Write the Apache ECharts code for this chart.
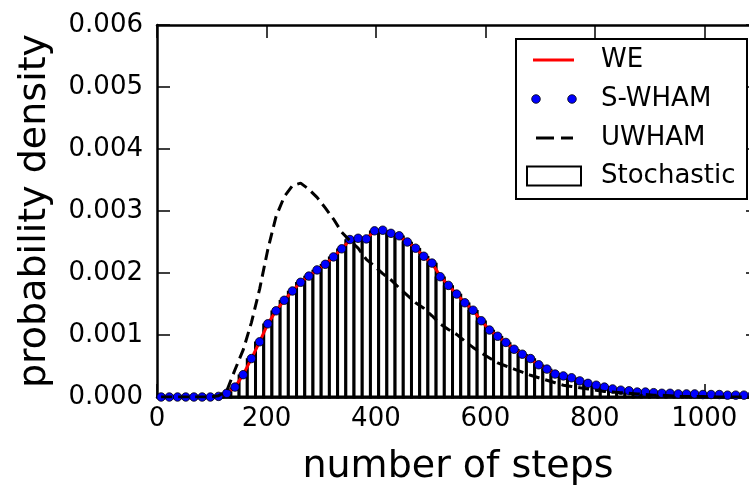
<!DOCTYPE html>
<html>
<head>
<meta charset="utf-8">
<script src="https://cdn.jsdelivr.net/npm/echarts@6/dist/echarts.min.js"></script>
<style>
  html, body { margin: 0; padding: 0; background: #fff; }
  #chart { width: 749px; height: 488px; }
</style>
</head>
<body>
<div id="chart"></div>
<script>
// Histogram bins of the number of steps (width 15), left edges and centres
const binLeft = [0, 15, 30, 45, 60, 75, 90, 105, 120, 135, 150, 165, 180, 195, 210, 225, 240, 255, 270, 285,
  300, 315, 330, 345, 360, 375, 390, 405, 420, 435, 450, 465, 480, 495, 510, 525, 540, 555, 570, 585,
  600, 615, 630, 645, 660, 675, 690, 705, 720, 735, 750, 765, 780, 795, 810, 825, 840, 855, 870, 885,
  900, 915, 930, 945, 960, 975, 990, 1005, 1020, 1035, 1050, 1065, 1080];
const binRight = [15, 30, 45, 60, 75, 90, 105, 120, 135, 150, 165, 180, 195, 210, 225, 240, 255, 270, 285, 300,
  315, 330, 345, 360, 375, 390, 405, 420, 435, 450, 465, 480, 495, 510, 525, 540, 555, 570, 585, 600,
  615, 630, 645, 660, 675, 690, 705, 720, 735, 750, 765, 780, 795, 810, 825, 840, 855, 870, 885, 900,
  915, 930, 945, 960, 975, 990, 1005, 1020, 1035, 1050, 1065, 1080, 1095];
const binCenter = [7.5, 22.5, 37.5, 52.5, 67.5, 82.5, 97.5, 112.5, 127.5, 142.5, 157.5, 172.5, 187.5, 202.5, 217.5, 232.5, 247.5, 262.5, 277.5, 292.5,
  307.5, 322.5, 337.5, 352.5, 367.5, 382.5, 397.5, 412.5, 427.5, 442.5, 457.5, 472.5, 487.5, 502.5, 517.5, 532.5, 547.5, 562.5, 577.5, 592.5,
  607.5, 622.5, 637.5, 652.5, 667.5, 682.5, 697.5, 712.5, 727.5, 742.5, 757.5, 772.5, 787.5, 802.5, 817.5, 832.5, 847.5, 862.5, 877.5, 892.5,
  907.5, 922.5, 937.5, 952.5, 967.5, 982.5, 997.5, 1012.5, 1027.5, 1042.5, 1057.5, 1072.5, 1087.5];

// Stochastic simulation histogram
const stochastic = [0, 0, 0, 0, 0, 0, 0, 0.00001, 0.00005, 0.00013, 0.00034, 0.00060, 0.00087, 0.00116, 0.00137, 0.00154, 0.00169, 0.00183, 0.00193, 0.00203,
  0.00212, 0.00224, 0.00237, 0.00252, 0.00254, 0.00254, 0.00266, 0.00267, 0.00262, 0.00258, 0.00248, 0.00238, 0.00225, 0.00214, 0.00192, 0.00178, 0.00164, 0.00150, 0.00138, 0.00121,
  0.00106, 0.00096, 0.00086, 0.00075, 0.00067, 0.00060, 0.00050, 0.00043, 0.00035, 0.00032, 0.00029, 0.00024, 0.00020, 0.00017, 0.00014, 0.00011, 0.00009, 0.00008, 0.00006, 0.00006,
  0.00005, 0.00004, 0.00004, 0.00003, 0.00003, 0.00003, 0.00002, 0.00002, 0.00002, 0.00002, 0.00001, 0.00001, 0.00001];

// Weighted ensemble estimate
const weDensity = [0, 0, 0, 0, 0, 0, 0, 0.00001, 0.00006, 0.00016, 0.00036, 0.00062, 0.00089, 0.00118, 0.00139, 0.00156, 0.00171, 0.00185, 0.00195, 0.00205,
  0.00214, 0.00226, 0.00239, 0.00253, 0.00257, 0.00256, 0.00267, 0.00269, 0.00264, 0.00259, 0.00250, 0.00240, 0.00227, 0.00216, 0.00195, 0.00180, 0.00166, 0.00152, 0.00140, 0.00123,
  0.00108, 0.00098, 0.00088, 0.00077, 0.00069, 0.00061, 0.00052, 0.00045, 0.00037, 0.00034, 0.00031, 0.00026, 0.00022, 0.00019, 0.00016, 0.00013, 0.00011, 0.00010, 0.00008, 0.00008,
  0.00007, 0.00006, 0.00006, 0.00005, 0.00005, 0.00005, 0.00004, 0.00004, 0.00004, 0.00003, 0.00003, 0.00003, 0.00003];

// S-WHAM estimate
const swhamDensity = [0, 0, 0, 0, 0, 0, 0, 0.00001, 0.00006, 0.00016, 0.00036, 0.00062, 0.00089, 0.00118, 0.00139, 0.00156, 0.00171, 0.00185, 0.00195, 0.00205,
  0.00214, 0.00226, 0.00239, 0.00254, 0.00256, 0.00255, 0.00268, 0.00269, 0.00264, 0.00260, 0.00250, 0.00240, 0.00227, 0.00216, 0.00194, 0.00180, 0.00166, 0.00152, 0.00140, 0.00123,
  0.00108, 0.00098, 0.00088, 0.00077, 0.00069, 0.00062, 0.00052, 0.00045, 0.00037, 0.00034, 0.00031, 0.00026, 0.00022, 0.00019, 0.00016, 0.00013, 0.00011, 0.00010, 0.00008, 0.00008,
  0.00007, 0.00006, 0.00006, 0.00005, 0.00005, 0.00005, 0.00004, 0.00004, 0.00004, 0.00003, 0.00003, 0.00003, 0.00003];

// UWHAM estimate
const uwhamDensity = [0, 0, 0, 0, 0, 0, 0, 0.00002, 0.00010, 0.00044, 0.00076, 0.00120, 0.00174, 0.00238, 0.00291, 0.00323, 0.00341, 0.00345, 0.00335, 0.00322,
  0.00305, 0.00287, 0.00266, 0.00252, 0.00240, 0.00222, 0.00211, 0.00199, 0.00189, 0.00176, 0.00164, 0.00152, 0.00143, 0.00131, 0.00118, 0.00109, 0.00101, 0.00090, 0.00080, 0.00071,
  0.00063, 0.00055, 0.00050, 0.00045, 0.00040, 0.00035, 0.00031, 0.00027, 0.00023, 0.00019, 0.00017, 0.00015, 0.00013, 0.00011, 0.00009, 0.00008, 0.00007, 0.00006, 0.00005, 0.00004,
  0.00003, 0.00003, 0.00002, 0.00001, 0.00001, 0.00001, 0.00001, 0, 0, 0, 0, 0, 0];

const xTicks = ['0', '200', '400', '600', '800', '1000'];
const yTicks = ['0.000', '0.001', '0.002', '0.003', '0.004', '0.005', '0.006'];
const legendNames = ['WE', 'S-WHAM', 'UWHAM', 'Stochastic'];

const FONT = 'DejaVu Sans';
const chart = echarts.init(document.getElementById('chart'), null, { renderer: 'canvas' });

const pairs = (ys) => binCenter.map((x, i) => [x, ys[i]]);
const histData = binLeft.map((x0, i) => [x0, binRight[i], stochastic[i]]);

const spine = { show: true, onZero: false, lineStyle: { color: '#000', width: 2.5 } };
const innerTicks = { show: true, inside: true, length: 13, lineStyle: { color: '#000', width: 1.5 } };

// Legend box drawn as a graphic group in the upper right corner
const legendRowY = [59, 98, 137, 175];
const legendGroup = {
  type: 'group',
  left: 515,
  top: 38,
  children: [
    { type: 'rect', shape: { x: 0, y: 0, width: 231, height: 160 }, style: { fill: '#fff', stroke: '#000', lineWidth: 2 } },
    { type: 'line', shape: { x1: 17, y1: legendRowY[0] - 38, x2: 58, y2: legendRowY[0] - 38 }, style: { stroke: '#ff0000', lineWidth: 3 } },
    { type: 'circle', shape: { cx: 20, cy: legendRowY[1] - 38, r: 4.3 }, style: { fill: '#0000ff', stroke: '#000', lineWidth: 0.8 } },
    { type: 'circle', shape: { cx: 56, cy: legendRowY[1] - 38, r: 4.3 }, style: { fill: '#0000ff', stroke: '#000', lineWidth: 0.8 } },
    { type: 'line', shape: { x1: 20, y1: legendRowY[2] - 38, x2: 38, y2: legendRowY[2] - 38 }, style: { stroke: '#000', lineWidth: 3 } },
    { type: 'line', shape: { x1: 45, y1: legendRowY[2] - 38, x2: 57, y2: legendRowY[2] - 38 }, style: { stroke: '#000', lineWidth: 3 } },
    { type: 'rect', shape: { x: 11, y: legendRowY[3] - 38 - 9.5, width: 54, height: 19 }, style: { fill: '#fff', stroke: '#000', lineWidth: 2 } }
  ].concat(legendNames.map((name, i) => ({
    type: 'text',
    x: 85,
    y: legendRowY[i] - 38,
    style: { text: name, font: '26px "' + FONT + '"', fill: '#000', verticalAlign: 'middle', align: 'left' }
  })))
};

chart.setOption({
  animation: false,
  backgroundColor: '#fff',
  grid: { left: 157, top: 25, right: -10, bottom: 91, containLabel: false, outerBoundsMode: 'none' },
  xAxis: [
    {
      type: 'value', position: 'bottom', min: 0, max: 1100, interval: 200,
      axisLine: spine, axisTick: innerTicks, splitLine: { show: false },
      axisLabel: {
        show: true, showMaxLabel: false, fontSize: 26, fontFamily: FONT, color: '#000', margin: 9,
        formatter: (v) => xTicks[Math.round(v / 200)]
      },
      name: 'number of steps', nameLocation: 'middle', nameGap: 51,
      nameTextStyle: { fontSize: 38, fontFamily: FONT, color: '#000' }
    },
    {
      type: 'value', position: 'top', min: 0, max: 1100, interval: 200,
      axisLine: spine, axisTick: innerTicks, splitLine: { show: false }, axisLabel: { show: false }
    }
  ],
  yAxis: [
    {
      type: 'value', position: 'left', min: 0, max: 0.006, interval: 0.001,
      axisLine: spine, axisTick: innerTicks, splitLine: { show: false },
      axisLabel: {
        fontSize: 26, fontFamily: FONT, color: '#000', margin: 14,
        formatter: (v) => yTicks[Math.round(v / 0.001)]
      },
      name: 'probability density', nameLocation: 'middle', nameRotate: 90, nameGap: 103,
      nameTextStyle: { fontSize: 38, fontFamily: FONT, color: '#000' }
    },
    {
      type: 'value', position: 'right', min: 0, max: 0.006, interval: 0.001,
      axisLine: spine, axisTick: innerTicks, splitLine: { show: false }, axisLabel: { show: false }
    }
  ],
  series: [
    {
      name: 'Stochastic',
      type: 'custom',
      xAxisIndex: 0, yAxisIndex: 0,
      data: histData,
      encode: { x: [0, 1], y: 2 },
      renderItem: (params, api) => {
        const top = api.coord([api.value(0), api.value(2)]);
        const base = api.coord([api.value(1), 0]);
        return {
          type: 'rect',
          shape: { x: top[0], y: top[1], width: base[0] - top[0], height: base[1] - top[1] },
          style: { fill: '#fff', stroke: '#000', lineWidth: 3 }
        };
      },
      z: 1
    },
    {
      name: 'WE', type: 'line', data: pairs(weDensity),
      showSymbol: false, lineStyle: { color: '#ff0000', width: 3 }, z: 2
    },
    {
      name: 'S-WHAM', type: 'scatter', data: pairs(swhamDensity),
      symbol: 'circle', symbolSize: 8.5,
      itemStyle: { color: '#0000ff', borderColor: '#000', borderWidth: 0.8, opacity: 1 }, z: 3
    },
    {
      name: 'UWHAM', type: 'line', data: pairs(uwhamDensity),
      showSymbol: false, lineStyle: { color: '#000', width: 3, type: [11, 6] }, z: 4
    }
  ],
  graphic: [legendGroup]
});
</script>
</body>
</html>
